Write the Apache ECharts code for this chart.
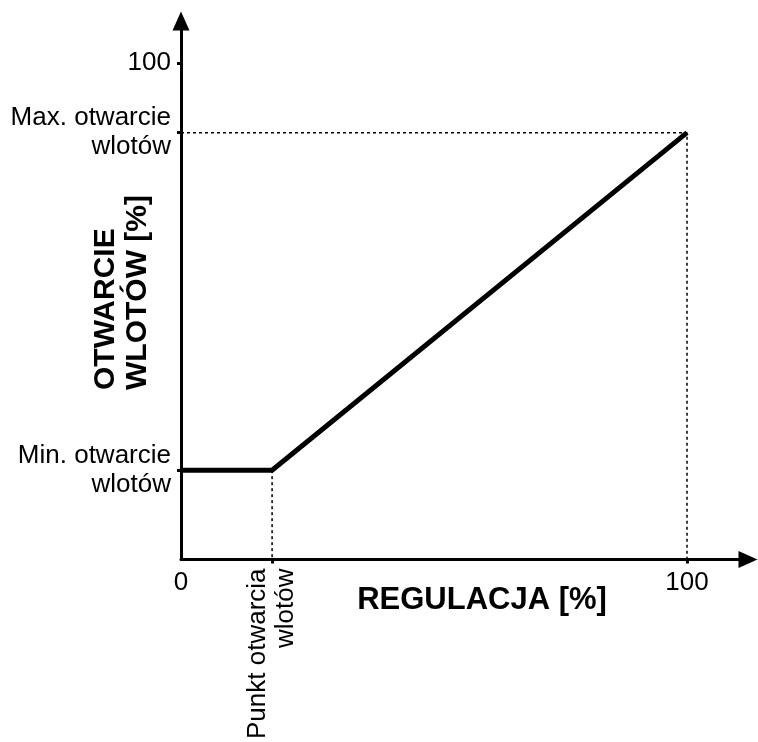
<!DOCTYPE html>
<html>
<head>
<meta charset="utf-8">
<script src="https://cdn.jsdelivr.net/npm/echarts@6/dist/echarts.min.js"></script>
<style>
html,body{margin:0;padding:0;background:#fff;}
#chart{width:758px;height:742px;}
</style>
</head>
<body>
<div id="chart"></div>
<script>
// ---- data ----
const openingPoint = 18;     // Punkt otwarcia wlotów (regulacja %)
const minOpening = 18;       // Min. otwarcie wlotów (%)
const maxOpening = 86;       // Max. otwarcie wlotów (%)
const regulationX = [0, openingPoint, 100];
const openingY = [minOpening, minOpening, maxOpening];
const xTickValues = [0, 100];
const xTickLabels = ['0', '100'];
const xSpecialValues = [openingPoint];
const xSpecialLabels = ['Punkt otwarcia\nwlotów'];
const yTickValues = [minOpening, maxOpening, 100];
const yTickLabels = ['Min. otwarcie\nwlotów', 'Max. otwarcie\nwlotów', '100'];
const xTitle = 'REGULACJA [%]';
const yTitle = 'OTWARCIE\nWLOTÓW [%]';

const FONT = "'Liberation Sans', Arial, sans-serif";
const mainLine = regulationX.map((x, i) => [x, openingY[i]]);
const guideMax = [[0, maxOpening], [100, maxOpening], [100, 0]];
const guideOpen = [[openingPoint, minOpening], [openingPoint, 0]];

const chart = echarts.init(document.getElementById('chart'), null, {renderer: 'canvas'});
const axisLineStyle = {color: '#000', width: 3};
chart.setOption({
  animation: false,
  backgroundColor: '#fff',
  grid: {left: 181, right: 10, top: 21, bottom: 180, containLabel: false},
  xAxis: [{
    type: 'value', min: 0, max: 112.05,
    splitLine: {show: false},
    axisLine: {show: true, lineStyle: axisLineStyle, symbol: ['none', 'triangle'], symbolSize: [17, 19]},
    axisTick: {show: true, length: 4, lineStyle: {color: '#000', width: 3}, customValues: xTickValues.slice(1)},
    axisLabel: {
      customValues: xTickValues, margin: 10, color: '#000', fontFamily: FONT, fontSize: 26,
      formatter: v => xTickLabels[xTickValues.indexOf(v)] ?? ''
    }
  }, {
    type: 'value', min: 0, max: 112.05, position: 'bottom',
    splitLine: {show: false},
    axisLine: {show: false},
    axisTick: {show: true, length: 4, lineStyle: {color: '#000', width: 3}, customValues: xSpecialValues},
    axisLabel: {
      customValues: xSpecialValues, rotate: 90, margin: 9, color: '#000', fontFamily: FONT, fontSize: 26, lineHeight: 28,
      formatter: v => xSpecialLabels[xSpecialValues.indexOf(v)] ?? ''
    }
  }],
  yAxis: {
    type: 'value', min: 0, max: 108.5,
    splitLine: {show: false},
    axisLine: {show: true, lineStyle: axisLineStyle, symbol: ['none', 'triangle'], symbolSize: [17, 19]},
    axisTick: {show: true, length: 4, lineStyle: {color: '#000', width: 3}, customValues: yTickValues},
    axisLabel: {
      customValues: yTickValues, margin: 10, color: '#000', fontFamily: FONT, fontSize: 26, lineHeight: 29,
      formatter: v => yTickLabels[yTickValues.indexOf(v)] ?? ''
    }
  },
  series: [
    {type: 'line', data: guideMax, symbol: 'none', silent: true,
     lineStyle: {color: '#000', width: 1.5, type: [3, 3]}},
    {type: 'line', data: guideOpen, symbol: 'none', silent: true,
     lineStyle: {color: '#000', width: 1.5, type: [3, 3]}},
    {type: 'line', data: mainLine, symbol: 'none', silent: true, z: 5,
     lineStyle: {color: '#000', width: 5, cap: 'butt', join: 'miter'}}
  ],
  graphic: [
    {type: 'text', x: 482, y: 600, style: {text: xTitle, font: "bold 31px 'Liberation Sans', Arial, sans-serif", fill: '#000', align: 'center', verticalAlign: 'middle'}},
    {type: 'text', x: 122, y: 390, rotation: Math.PI / 2, style: {text: yTitle, font: "bold 30px 'Liberation Sans', Arial, sans-serif", fill: '#000', align: 'left', verticalAlign: 'middle', lineHeight: 32}}
  ]
});
</script>
</body>
</html>
